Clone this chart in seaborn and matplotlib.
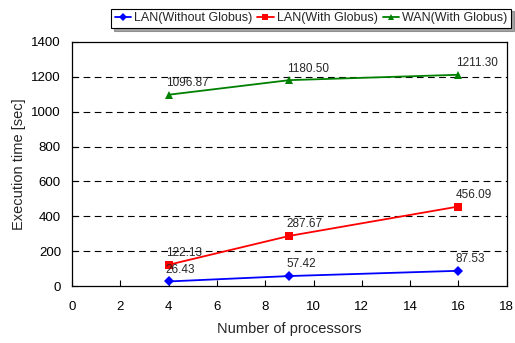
import pandas as pd
import matplotlib
import matplotlib.pyplot as plt
import seaborn as sns

matplotlib.use('Agg')

# 数据
processors = [4, 9, 16]
lan_no_globus = [26.43, 57.42, 87.53]
lan_globus = [122.13, 287.67, 456.09]
wan_globus = [1096.87, 1180.50, 1211.30]
series_names = ['LAN(Without Globus)', 'LAN(With Globus)', 'WAN(With Globus)']

df = pd.DataFrame({
    'procs': processors * 3,
    'time': lan_no_globus + lan_globus + wan_globus,
    'series': [series_names[0]] * 3 + [series_names[1]] * 3 + [series_names[2]] * 3,
})

sns.set_style('white')
plt.rcParams['font.family'] = ['Liberation Sans', 'DejaVu Sans']

fig = plt.figure(figsize=(5.15, 3.43), dpi=100)
ax = fig.add_axes([0.140, 0.166, 0.844, 0.712])

palette = {series_names[0]: '#0000FF', series_names[1]: '#FF0000', series_names[2]: '#008000'}
sns.lineplot(data=df, x='procs', y='time', hue='series', style='series',
             palette=palette, markers={series_names[0]: 'D', series_names[1]: 's', series_names[2]: '^'},
             dashes=False, markersize=5.5, markeredgewidth=0, linewidth=1.3, ax=ax)

# 数值标签
for ys in [lan_no_globus, lan_globus, wan_globus]:
    for x, y in zip(processors, ys):
        ax.annotate(f'{y:.2f}', (x, y), xytext=(-2, 4), textcoords='offset points',
                    ha='left', va='bottom', fontsize=8.5)

ax.set_xlim(0, 18)
ax.set_ylim(0, 1400)
ax.set_xticks(range(0, 19, 2))
ax.set_yticks(range(0, 1401, 200))
for yv in range(200, 1400, 200):
    ax.axhline(yv, color='black', linestyle=(0, (6, 4)), linewidth=0.8, zorder=0)
ax.tick_params(direction='in', length=4, width=0.8, labelsize=9.5, colors='black',
               bottom=True, left=True, pad=8)
ax.tick_params(axis='x', pad=11)
for s in ax.spines.values():
    s.set_color('black')
    s.set_linewidth(0.9)
ax.set_xlabel('Number of processors', fontsize=10.5, labelpad=6)
ax.set_ylabel('Execution time [sec]', fontsize=10.5, labelpad=4)

leg = ax.legend(loc='upper right', bbox_to_anchor=(0.992, 0.975), bbox_transform=fig.transFigure,
                ncol=3, frameon=True, shadow=True, fancybox=False, fontsize=9,
                handlelength=1.3, handletextpad=0.25, columnspacing=0.4, borderpad=0.3,
                borderaxespad=0, markerscale=0.8)
leg.get_frame().set_edgecolor('black')
leg.get_frame().set_linewidth(0.8)

plt.savefig('out.png', dpi=100)
plt.close()
